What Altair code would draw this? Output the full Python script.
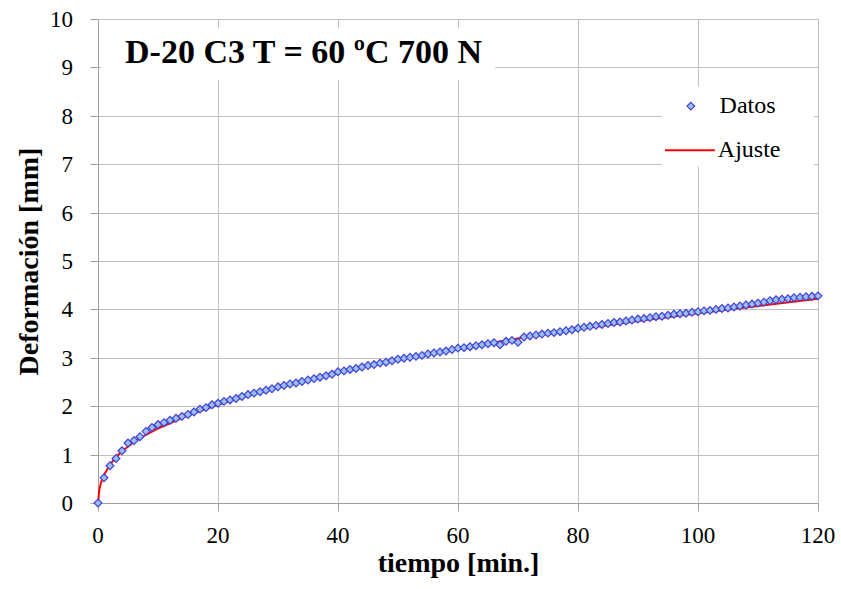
import altair as alt
import pandas as pd

# Measured data (Datos): time in minutes, deformation in mm
tiempo = list(range(0, 121))
deformacion = [
    0.00, 0.52, 0.77, 0.92, 1.08, 1.24, 1.29, 1.37, 1.48, 1.56,
    1.62, 1.66, 1.71, 1.75, 1.79, 1.83, 1.88, 1.94, 1.97, 2.03,
    2.06, 2.10, 2.13, 2.16, 2.20, 2.24, 2.27, 2.30, 2.33, 2.36,
    2.40, 2.43, 2.46, 2.48, 2.51, 2.54, 2.57, 2.60, 2.63, 2.66,
    2.71, 2.73, 2.76, 2.78, 2.81, 2.84, 2.86, 2.89, 2.91, 2.94,
    2.97, 2.99, 3.01, 3.03, 3.05, 3.08, 3.10, 3.12, 3.14, 3.17,
    3.20, 3.21, 3.23, 3.25, 3.27, 3.29, 3.31, 3.27, 3.34, 3.36,
    3.32, 3.43, 3.45, 3.47, 3.49, 3.51, 3.52, 3.54, 3.56, 3.58,
    3.61, 3.63, 3.65, 3.67, 3.69, 3.71, 3.73, 3.74, 3.76, 3.78,
    3.80, 3.81, 3.83, 3.85, 3.86, 3.88, 3.90, 3.91, 3.92, 3.94,
    3.95, 3.97, 3.98, 4.00, 4.02, 4.03, 4.05, 4.07, 4.09, 4.11,
    4.13, 4.15, 4.18, 4.20, 4.21, 4.22, 4.24, 4.25, 4.26, 4.27,
    4.28,
]

# Fitted curve (Ajuste)
ajuste_t = [0, 0.25, 0.5, 1, 2, 3, 4, 6, 8, 10, 15, 20, 25, 30, 40, 50, 60, 70, 80, 90, 100, 110, 120]
ajuste_v = [0, 0.30, 0.42, 0.58, 0.79, 0.95, 1.07, 1.26, 1.41, 1.54, 1.81, 2.03, 2.22, 2.39, 2.70, 2.96,
            3.19, 3.40, 3.59, 3.76, 3.92, 4.07, 4.22]

x_ticks = [0, 20, 40, 60, 80, 100, 120]
y_ticks = list(range(0, 11))

titulo = "D-20 C3 T = 60 ºC 700 N"
legend_labels = ["Datos", "Ajuste"]

FONT = "Liberation Serif"
BLUE_STROKE = "#4040d8"
BLUE_FILL = "#9cc0e8"
RED = "#ff0000"

df = pd.DataFrame({"t": tiempo, "v": deformacion})
df_fit = pd.DataFrame({"t": ajuste_t, "v": ajuste_v})

xscale = alt.Scale(domain=[0, 120], nice=False)
yscale = alt.Scale(domain=[0, 10], nice=False)

axis_style = dict(
    grid=True, gridColor="#c0c0c0", domainColor="#a0a0a0", tickColor="#a0a0a0", tickSize=8,
    labels=False,
    titleFont=FONT, titleFontSize=28, titleFontWeight="bold", titleColor="#000",
)

xaxis = alt.Axis(values=x_ticks, title="tiempo [min.]", titlePadding=38, **axis_style)
yaxis = alt.Axis(values=y_ticks, title="Deformación [mm]", titlePadding=46, **axis_style)

line = alt.Chart(df_fit).mark_line(color=RED, strokeWidth=2).encode(
    x=alt.X("t:Q", scale=xscale, axis=xaxis),
    y=alt.Y("v:Q", scale=yscale, axis=yaxis),
)

points = alt.Chart(df).mark_point(shape="diamond", filled=True, fill=BLUE_FILL,
                                  stroke=BLUE_STROKE, strokeWidth=1.2, size=60, opacity=1).encode(
    x=alt.X("t:Q", scale=xscale, axis=xaxis),
    y=alt.Y("v:Q", scale=yscale, axis=yaxis),
)

# Tick labels as serif text
xlab = alt.Chart(pd.DataFrame({"t": x_ticks, "v": [0] * len(x_ticks)})).mark_text(
    align="center", baseline="alphabetic", dy=40, font=FONT, fontSize=23, color="#000"
).encode(x=alt.X("t:Q", scale=xscale), y=alt.Y("v:Q", scale=yscale), text=alt.Text("t:Q"))
ylab = alt.Chart(pd.DataFrame({"t": [0] * len(y_ticks), "v": y_ticks})).mark_text(
    align="right", baseline="alphabetic", dx=-25, dy=8, font=FONT, fontSize=23, color="#000"
).encode(x=alt.X("t:Q", scale=xscale), y=alt.Y("v:Q", scale=yscale), text=alt.Text("v:Q"))

# Title box (white background over grid) and text
title_box = alt.Chart(pd.DataFrame({"x1": [0.5], "x2": [66.2], "y1": [8.74], "y2": [9.81]})).mark_rect(
    color="white").encode(x="x1:Q", x2="x2:Q", y="y1:Q", y2="y2:Q")
title_text = alt.Chart(pd.DataFrame({"x": [4.5], "y": [9.3], "label": [titulo]})).mark_text(
    align="left", baseline="middle", font=FONT, fontSize=34, fontWeight="bold", color="#000").encode(
    x="x:Q", y="y:Q", text="label:N")

# Manual legend
legend_box = alt.Chart(pd.DataFrame({"x1": [94.0], "x2": [119.3], "y1": [6.95], "y2": [8.6]})).mark_rect(
    color="white").encode(x="x1:Q", x2="x2:Q", y="y1:Q", y2="y2:Q")
legend_point = alt.Chart(pd.DataFrame({"x": [98.8], "y": [8.2]})).mark_point(
    shape="diamond", filled=True, fill=BLUE_FILL, stroke=BLUE_STROKE, strokeWidth=1.2, size=60, opacity=1
).encode(x="x:Q", y="y:Q")
legend_rule = alt.Chart(pd.DataFrame({"x1": [94.5], "x2": [102.8], "y": [7.29]})).mark_rule(
    color=RED, strokeWidth=2).encode(x="x1:Q", x2="x2:Q", y="y:Q")
legend_text = alt.Chart(pd.DataFrame({"x": [103.6, 103.3], "y": [8.2, 7.29], "label": legend_labels})).mark_text(
    align="left", baseline="middle", font=FONT, fontSize=24, color="#000").encode(
    x="x:Q", y="y:Q", text="label:N")

chart = alt.layer(
    line, points, xlab, ylab, title_box, title_text, legend_box, legend_point, legend_rule, legend_text
).properties(
    width=720, height=484,
    autosize=alt.AutoSizeParams(type="none"),
    padding={"left": 98, "top": 19, "right": 23, "bottom": 86},
    background="white",
).configure(
    font=FONT
).configure_view(
    stroke="#c0c0c0", strokeWidth=1
).configure_axis(**axis_style)

chart.save("out.html", embed_options={"renderer": "svg", "actions": False})
